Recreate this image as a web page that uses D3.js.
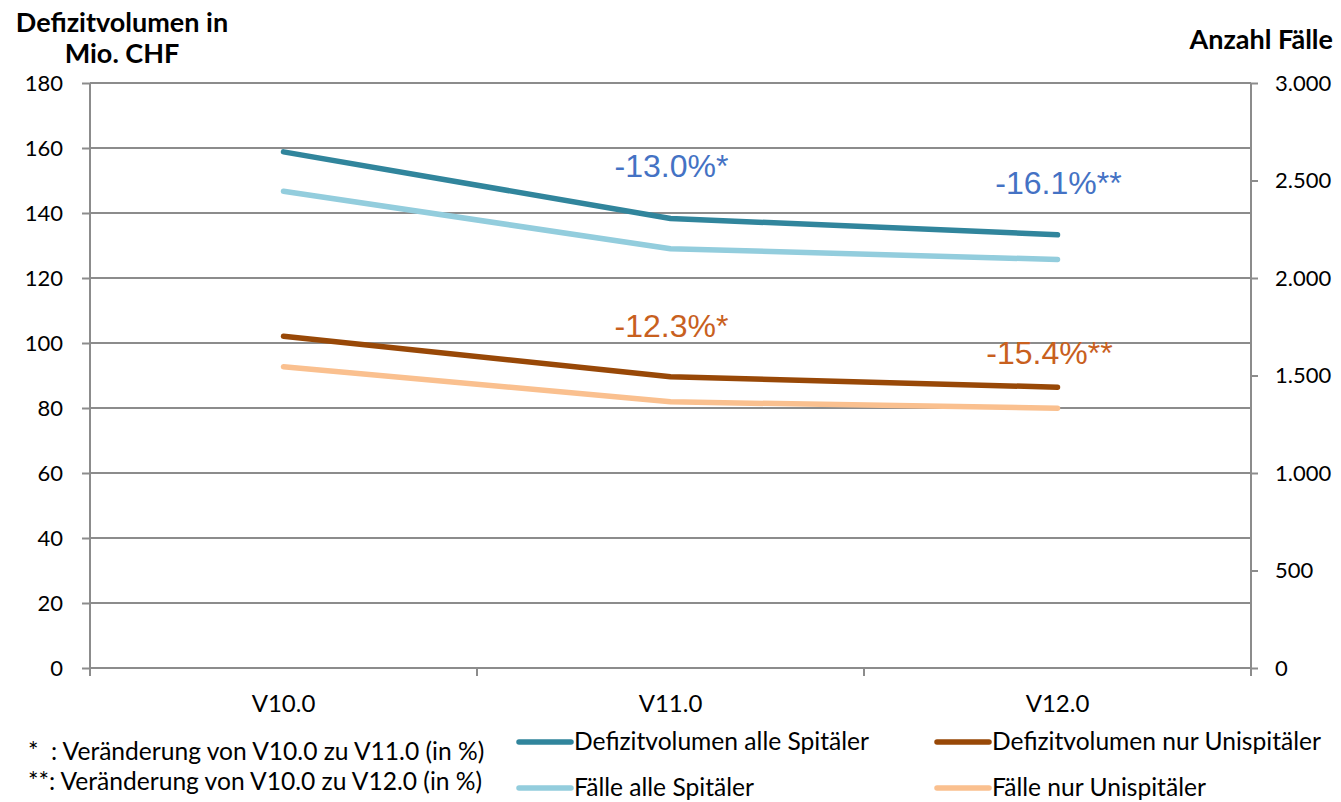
<!DOCTYPE html>
<html><head><meta charset="utf-8">
<script src="https://cdn.jsdelivr.net/npm/d3@7"></script>
<style>body{margin:0;background:#fff}svg{display:block}</style>
</head><body>
<svg id="c" width="1341" height="802"></svg>
<script>
const categories = ["V10.0","V11.0","V12.0"];
const defizitAlle = [158.8, 138.3, 133.3];
const defizitUni = [102.1, 89.6, 86.4];
const faelleAlle = [2445, 2150, 2095];
const faelleUni = [1545, 1365, 1332];
const leftTicks = [0,20,40,60,80,100,120,140,160,180];
const rightTicks = [0,500,1000,1500,2000,2500,3000];
const annotations = [
  {cat:"V11.0", text:"-13.0%*", val:151.2, color:"#4472C4", dx:1},
  {cat:"V12.0", text:"-16.1%**", val:146.0, color:"#4472C4", dx:1},
  {cat:"V11.0", text:"-12.3%*", val:101.8, color:"#C8601E", dx:1},
  {cat:"V12.0", text:"-15.4%**", val:93.6, color:"#C8601E", dx:-8}
];

const svg = d3.select("#c");
const L = 90, R = 1251, T = 83, B = 668;
const x = d3.scaleBand().domain(categories).range([L,R]);
const yL = d3.scaleLinear().domain([0,180]).range([B,T]);
const yR = d3.scaleLinear().domain([0,3000]).range([B,T]);
const grid = "#8c8c8c";
const lab = "Lato, 'Open Sans', sans-serif";

// gridlines
svg.append("g").selectAll("line").data(leftTicks.slice(1)).join("line")
  .attr("x1",L).attr("x2",R).attr("y1",d=>yL(d)).attr("y2",d=>yL(d))
  .attr("stroke",grid).attr("stroke-width",2);

// left axis
const gl = svg.append("g").attr("transform",`translate(${L},0)`)
  .call(d3.axisLeft(yL).tickValues(leftTicks).tickSize(8).tickPadding(19));
// right axis
const gr = svg.append("g").attr("transform",`translate(${R},0)`)
  .call(d3.axisRight(yR).tickValues(rightTicks).tickSize(7).tickPadding(17)
    .tickFormat(d=>d3.format(",")(d).replace(/,/g,".")));
// bottom axis
const gb = svg.append("g").attr("transform",`translate(0,${B})`)
  .call(d3.axisBottom(x).tickSize(0).tickPadding(27));
gb.selectAll(".tick line").remove();
gb.append("g").selectAll("line").data([L, L+x.step(), L+2*x.step(), R]).join("line")
  .attr("x1",d=>d).attr("x2",d=>d).attr("y1",0).attr("y2",8).attr("stroke",grid).attr("stroke-width",2);

[gl,gr,gb].forEach(g=>{
  g.selectAll(".domain").attr("stroke",grid).attr("stroke-width",2);
  g.selectAll(".tick line").attr("stroke",grid).attr("stroke-width",2);
  g.selectAll("text").attr("font-family",lab).attr("font-size",22).attr("fill","#000");
});
gb.selectAll("text").attr("font-size",24);
gl.select(".domain").attr("d",`M0,${T}V${B}`);
gr.select(".domain").attr("d",`M0,${T}V${B}`);
gb.select(".domain").attr("d",`M${L},0H${R}`);

// lines
const series = [
  {vals:defizitAlle, s:yL, color:"#31859C"},
  {vals:faelleAlle, s:yR, color:"#93CDDD"},
  {vals:defizitUni, s:yL, color:"#984807"},
  {vals:faelleUni, s:yR, color:"#FAC08F"}
];
series.forEach(se=>{
  const line = d3.line().x((d,i)=>x(categories[i])+x.bandwidth()/2).y(d=>se.s(d));
  svg.append("path").attr("d",line(se.vals)).attr("fill","none")
    .attr("stroke",se.color).attr("stroke-width",5.5).attr("stroke-linecap","round").attr("stroke-linejoin","round");
});

// annotations
svg.append("g").selectAll("text").data(annotations).join("text")
  .attr("x",d=>x(d.cat)+x.bandwidth()/2+d.dx).attr("y",d=>yL(d.val))
  .attr("text-anchor","middle").attr("font-family","'Liberation Sans', Arial, sans-serif")
  .attr("font-size",32).attr("fill",d=>d.color).text(d=>d.text);

// titles
const tt = svg.append("g").attr("font-family",lab).attr("font-weight","bold").attr("font-size",27).attr("fill","#000");
tt.append("text").attr("x",122).attr("y",32).attr("text-anchor","middle").text("Defizitvolumen in");
tt.append("text").attr("x",122).attr("y",63).attr("text-anchor","middle").text("Mio. CHF");
tt.append("text").attr("x",1333).attr("y",49).attr("text-anchor","end").text("Anzahl Fälle");

// footnotes
const fn = svg.append("g").attr("font-family",lab).attr("font-size",24.6).attr("fill","#000");
fn.append("text").attr("x",28).attr("y",760).attr("xml:space","preserve").text("*  : Veränderung von V10.0 zu V11.0 (in %)");
fn.append("text").attr("x",28).attr("y",790).text("**: Veränderung von V10.0 zu V12.0 (in %)");

// legend
const legend = [
  {label:"Defizitvolumen alle Spitäler", color:"#31859C", x:517, y:742},
  {label:"Defizitvolumen nur Unispitäler", color:"#984807", x:935, y:742},
  {label:"Fälle alle Spitäler", color:"#93CDDD", x:517, y:788},
  {label:"Fälle nur Unispitäler", color:"#FAC08F", x:935, y:788}
];
const lg = svg.append("g").selectAll("g").data(legend).join("g").attr("transform",d=>`translate(${d.x},${d.y})`);
lg.append("line").attr("x1",2).attr("x2",54).attr("stroke",d=>d.color).attr("stroke-width",5.5).attr("stroke-linecap","round");
lg.append("text").attr("x",57).attr("y",8).attr("font-family",lab).attr("font-size",24.6).text(d=>d.label);
</script>
</body></html>
